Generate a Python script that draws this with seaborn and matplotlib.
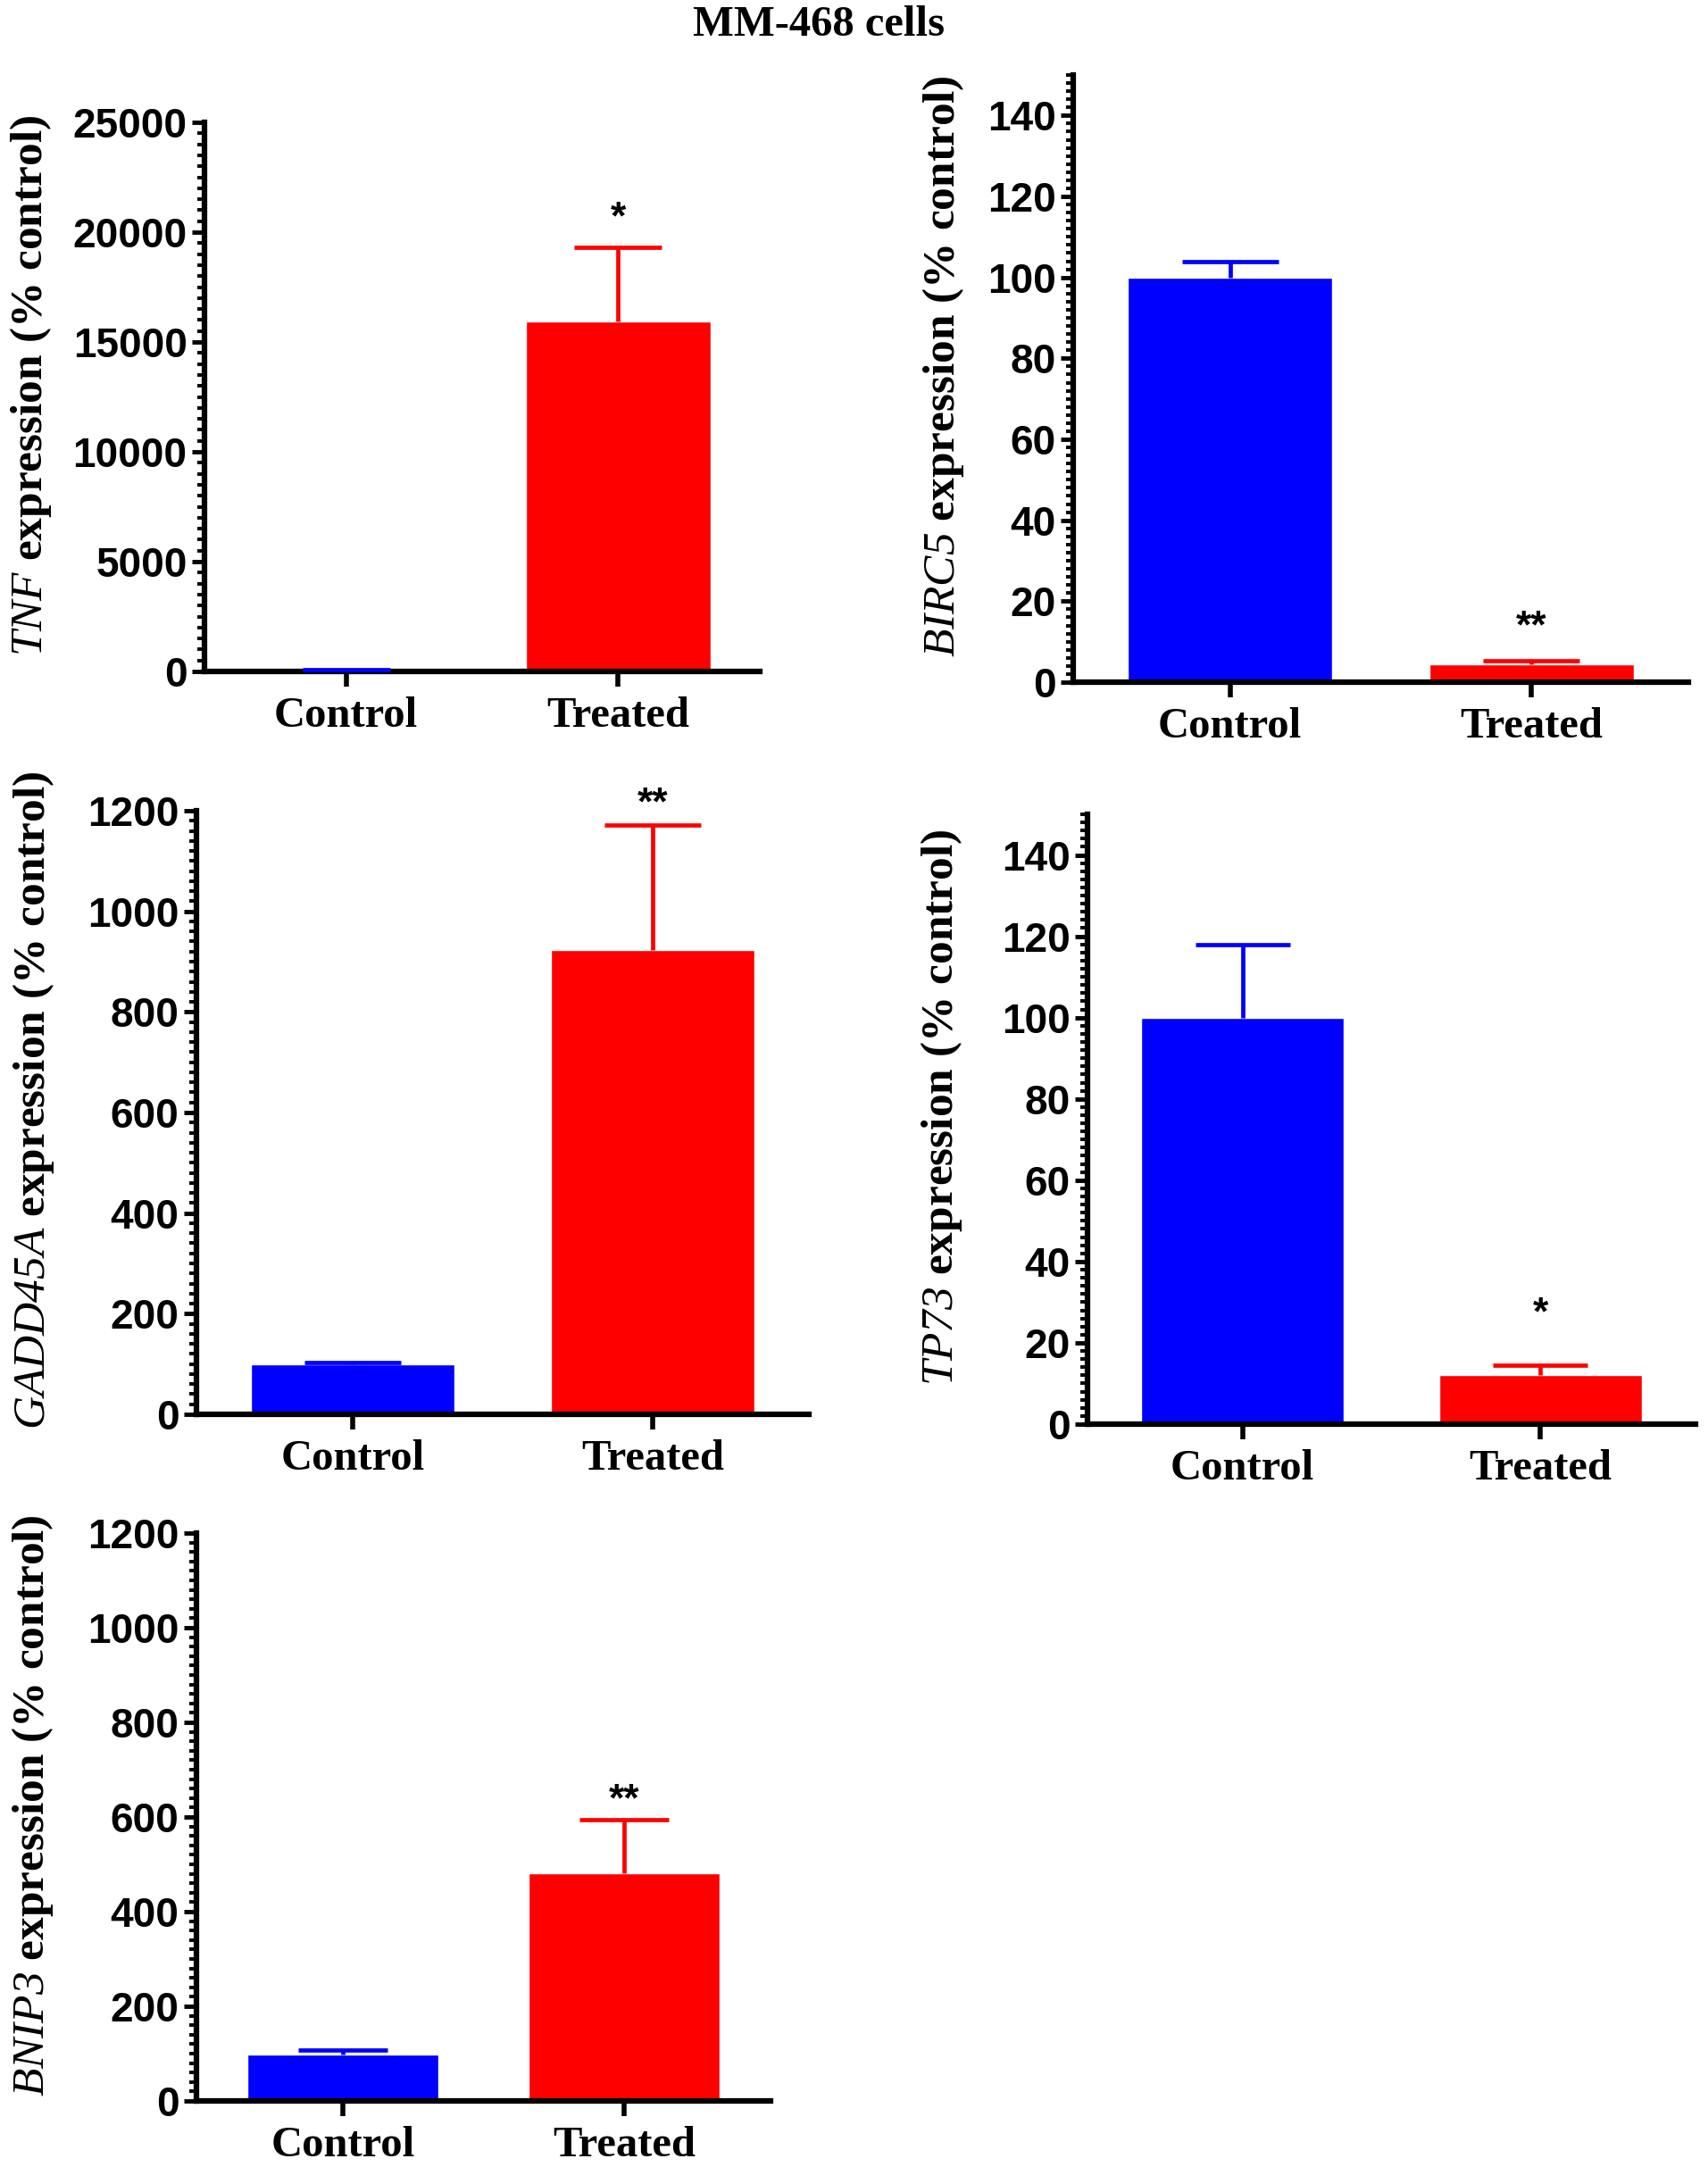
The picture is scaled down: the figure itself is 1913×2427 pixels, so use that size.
import matplotlib
matplotlib.use("Agg")
import matplotlib.pyplot as plt
from matplotlib.ticker import MultipleLocator, AutoMinorLocator
import seaborn as sns
import pandas as pd

groups = ["Control", "Treated"]

# mean and upper error (SEM), % of control
tnf_mean = [100, 15950]
tnf_sem = [0, 3350]
birc5_mean = [100, 4.4]
birc5_sem = [4, 0.8]
gadd45a_mean = [100, 923]
gadd45a_sem = [3, 249]
tp73_mean = [100, 12]
tp73_sem = [18, 2.6]
bnip3_mean = [98, 482]
bnip3_sem = [9, 112]

genes = ["TNF", "BIRC5", "GADD45A", "TP73", "BNIP3"]
stars = ["*", "**", "**", "*", "**"]
title = "MM-468 cells"

bar_colors = ["#0000FF", "#FF0000"]

sns.set_style("ticks")
plt.rcParams["font.family"] = ["Liberation Sans", "DejaVu Sans"]
for key in ["text.color", "axes.labelcolor", "xtick.color", "ytick.color", "axes.edgecolor"]:
    plt.rcParams[key] = "black"
# gene names fully italic (digits too)
plt.rcParams["mathtext.fontset"] = "custom"
plt.rcParams["mathtext.it"] = "Liberation Serif:italic"
plt.rcParams["mathtext.rm"] = "Liberation Serif:italic"

W, H = 1913, 2427
fig = plt.figure(figsize=(W / 100, H / 100), dpi=100)

# layout: pixel box (left, right, top, bottom), ymax, major step, ylabel centre x (px), star gap
layout = [
    ((229, 851, 137, 752), 25000, 5000, 34, 0.076),
    ((1202, 1891, 84, 764), 150, 20, 1057, 0.077),
    ((220, 906, 908, 1584), 1200, 200, 38, 0.056),
    ((1218, 1899, 912, 1595), 150, 20, 1054, 0.104),
    ((220, 863, 1717, 2353), 1200, 200, 37, 0.057),
]
means = [tnf_mean, birc5_mean, gadd45a_mean, tp73_mean, bnip3_mean]
sems = [tnf_sem, birc5_sem, gadd45a_sem, tp73_sem, bnip3_sem]

xlo, xhi = -0.52, 1.52

for gene, star, mean, sem, (box, ymax, step, lab_x, gap) in zip(genes, stars, means, sems, layout):
    left, right, top, bottom = box
    ax = fig.add_axes([left / W, 1 - bottom / H, (right - left) / W, (bottom - top) / H])
    df = pd.DataFrame({"group": groups, "value": mean})
    sns.barplot(data=df, x="group", y="value", hue="group", palette=bar_colors,
                width=0.68, saturation=1, errorbar=None, legend=False, ax=ax)

    # one-sided error bars, cap about 0.32 of a category wide
    px_per_unit = (right - left) / (xhi - xlo)
    cap = 0.32 * px_per_unit / 2 * 0.72
    for i in range(len(groups)):
        _, caps, _ = ax.errorbar(i, mean[i], yerr=[[0], [sem[i]]], fmt="none",
                                 ecolor=bar_colors[i], elinewidth=3.4, capsize=cap,
                                 capthick=3.4, zorder=3)
        caps[0].remove()  # no cap on the bar top
        if i == 1:
            ax.annotate(star, xy=(i, mean[i] + sem[i] + gap * ymax), xytext=(0, -19),
                        textcoords="offset points", ha="center", va="baseline",
                        fontsize=32, fontweight="bold", family="Liberation Sans",
                        annotation_clip=False)

    ax.set_xlim(xlo, xhi)
    ax.set_ylim(0, ymax)
    ax.yaxis.set_major_locator(MultipleLocator(step))
    ax.yaxis.set_minor_locator(AutoMinorLocator(10))
    ax.set_xlabel("")
    ax.set_ylabel("")

    sns.despine(ax=ax)
    for s in ["left", "bottom"]:
        ax.spines[s].set_linewidth(4.5)
    ax.tick_params(axis="y", which="major", length=10, width=3.5, labelsize=33, pad=4)
    ax.tick_params(axis="y", which="minor", length=6, width=2.8)
    ax.tick_params(axis="x", which="major", length=12, width=4, labelsize=35, pad=8)
    for lbl in ax.get_yticklabels():
        lbl.set_fontweight("bold")
    for lbl in ax.get_xticklabels():
        lbl.set_fontfamily("Liberation Serif")
        lbl.set_fontweight("bold")

    ax.text((lab_x - left) / (right - left), 0.52,
            r"$" + gene + r"$ expression (% control)",
            transform=ax.transAxes, rotation=90, ha="center", va="center",
            fontsize=37, fontweight="bold", family="Liberation Serif")

fig.text(917 / W, 1 - 28 / H, title, ha="center", va="center",
         fontsize=35, fontweight="bold", family="Liberation Serif")

fig.savefig("out.png", dpi=100)
